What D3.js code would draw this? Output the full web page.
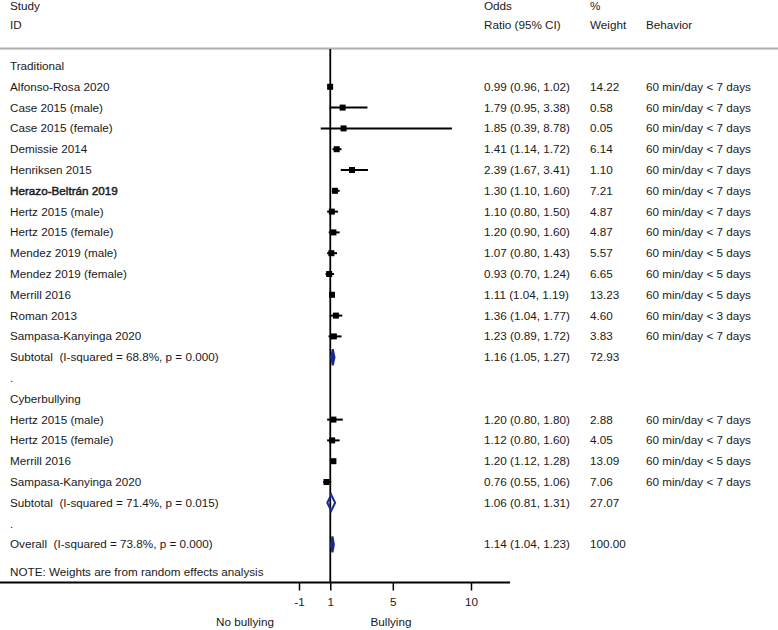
<!DOCTYPE html>
<html>
<head>
<meta charset="utf-8">
<script src="https://cdn.jsdelivr.net/npm/d3@7/dist/d3.min.js"></script>
<style>
  html, body { margin: 0; padding: 0; background: #fff; }
  text { font-family: "Liberation Sans", Arial, Helvetica, sans-serif; font-size: 11.7px; fill: #1a1a1a; white-space: pre; }
</style>
</head>
<body>
<svg id="chart" width="778" height="630"></svg>
<script>
// ---------------- data ----------------
const tradStudies = ["Alfonso-Rosa 2020","Case 2015 (male)","Case 2015 (female)","Demissie 2014","Henriksen 2015","Herazo-Beltrán 2019","Hertz 2015 (male)","Hertz 2015 (female)","Mendez 2019 (male)","Mendez 2019 (female)","Merrill 2016","Roman 2013","Sampasa-Kanyinga 2020"];
const tradOR  = [0.99, 1.79, 1.85, 1.41, 2.39, 1.30, 1.10, 1.20, 1.07, 0.93, 1.11, 1.36, 1.23];
const tradLo  = [0.96, 0.95, 0.39, 1.14, 1.67, 1.10, 0.80, 0.90, 0.80, 0.70, 1.04, 1.04, 0.89];
const tradHi  = [1.02, 3.38, 8.78, 1.72, 3.41, 1.60, 1.50, 1.60, 1.43, 1.24, 1.19, 1.77, 1.72];
const tradW   = ["14.22","0.58","0.05","6.14","1.10","7.21","4.87","4.87","5.57","6.65","13.23","4.60","3.83"];
const tradBeh = ["60 min/day < 7 days","60 min/day < 7 days","60 min/day < 7 days","60 min/day < 7 days","60 min/day < 7 days","60 min/day < 7 days","60 min/day < 7 days","60 min/day < 7 days","60 min/day < 5 days","60 min/day < 5 days","60 min/day < 5 days","60 min/day < 3 days","60 min/day < 7 days"];

const cyberStudies = ["Hertz 2015 (male)","Hertz 2015 (female)","Merrill 2016","Sampasa-Kanyinga 2020"];
const cyberOR  = [1.20, 1.12, 1.20, 0.76];
const cyberLo  = [0.80, 0.80, 1.12, 0.55];
const cyberHi  = [1.80, 1.60, 1.28, 1.06];
const cyberW   = ["2.88","4.05","13.09","7.06"];
const cyberBeh = ["60 min/day < 7 days","60 min/day < 7 days","60 min/day < 5 days","60 min/day < 7 days"];

const pooledLabels = ["Subtotal  (I-squared = 68.8%, p = 0.000)","Subtotal  (I-squared = 71.4%, p = 0.015)","Overall  (I-squared = 73.8%, p = 0.000)"];
const pooledOR = [1.16, 1.06, 1.14];
const pooledLo = [1.05, 0.81, 1.04];
const pooledHi = [1.27, 1.31, 1.23];
const pooledW  = ["72.93","27.07","100.00"];

const xTicks = [-1, 1, 5, 10];
const xTickLabels = ["-1", "1", "5", "10"];
const xLabels = ["No bullying", "Bullying"];

// ---------------- build rows ----------------
const fmt = d3.format(".2f");
const rows = [];
rows.push({type:"head", label:"Traditional"});
tradStudies.forEach((s,i)=>rows.push({type:"study", label:s, or:tradOR[i], lo:tradLo[i], hi:tradHi[i], w:tradW[i], beh:tradBeh[i], bold: s.startsWith("Herazo")}));
rows.push({type:"pool", label:pooledLabels[0], or:pooledOR[0], lo:pooledLo[0], hi:pooledHi[0], w:pooledW[0], fill:true});
rows.push({type:"dot", label:"."});
rows.push({type:"head", label:"Cyberbullying"});
cyberStudies.forEach((s,i)=>rows.push({type:"study", label:s, or:cyberOR[i], lo:cyberLo[i], hi:cyberHi[i], w:cyberW[i], beh:cyberBeh[i]}));
rows.push({type:"pool", label:pooledLabels[1], or:pooledOR[1], lo:pooledLo[1], hi:pooledHi[1], w:pooledW[1], fill:false});
rows.push({type:"dot", label:"."});
rows.push({type:"pool", label:pooledLabels[2], or:pooledOR[2], lo:pooledLo[2], hi:pooledHi[2], w:pooledW[2], fill:true});

// ---------------- scales ----------------
const svg = d3.select("#chart");
const x = d3.scaleLinear().domain([-1, 10]).range([299, 471]);
const y = d3.scaleLinear().domain([0, rows.length - 1]).range([66, 66 + (rows.length - 1) * 20.8]);
const navy = "#1b2a8c";

// header
const hdr = svg.append("g");
hdr.append("text").attr("x", 10).attr("y", 6).attr("dy", "0.35em").text("Study");
hdr.append("text").attr("x", 10).attr("y", 25).attr("dy", "0.35em").text("ID");
hdr.append("text").attr("x", 484).attr("y", 6).attr("dy", "0.35em").text("Odds");
hdr.append("text").attr("x", 484).attr("y", 25).attr("dy", "0.35em").text("Ratio (95% CI)");
hdr.append("text").attr("x", 590).attr("y", 6).attr("dy", "0.35em").text("%");
hdr.append("text").attr("x", 590).attr("y", 25).attr("dy", "0.35em").text("Weight");
hdr.append("text").attr("x", 646).attr("y", 25).attr("dy", "0.35em").text("Behavior");

svg.append("line").attr("x1", 0).attr("x2", 778).attr("y1", 48.5).attr("y2", 48.5)
  .attr("stroke", "#b0b0b0").attr("stroke-width", 2);

// null line
const axisY = 582.5;
svg.append("line").attr("x1", x(1)).attr("x2", x(1)).attr("y1", 49).attr("y2", axisY)
  .attr("stroke", "#000").attr("stroke-width", 1.8);

// rows
const g = svg.append("g");
rows.forEach((r, i) => {
  const yy = y(i);
  const t = g.append("text").attr("x", 10).attr("y", yy).attr("dy", "0.35em")
    .attr("xml:space", "preserve").text(r.label);
  if (r.bold) t.attr("stroke", "#1a1a1a").attr("stroke-width", 0.45);
  if (r.type === "study") {
    g.append("line").attr("x1", x(r.lo)).attr("x2", x(r.hi)).attr("y1", yy).attr("y2", yy)
      .attr("stroke", "#000").attr("stroke-width", 2);
    g.append("rect").attr("x", x(r.or) - 3).attr("y", yy - 3).attr("width", 6).attr("height", 6).attr("fill", "#000");
  }
  if (r.type === "pool") {
    const pts = [[x(r.lo), yy], [x(r.or), yy - 8], [x(r.hi), yy], [x(r.or), yy + 8]];
    g.append("path").attr("d", d3.line()(pts) + "Z")
      .attr("fill", r.fill ? navy : "none").attr("stroke", navy).attr("stroke-width", 2);
  }
  if (r.type === "study" || r.type === "pool") {
    g.append("text").attr("x", 484).attr("y", yy).attr("dy", "0.35em")
      .text(`${fmt(r.or)} (${fmt(r.lo)}, ${fmt(r.hi)})`);
    g.append("text").attr("x", 590).attr("y", yy).attr("dy", "0.35em").text(r.w);
    if (r.beh) g.append("text").attr("x", 646).attr("y", yy).attr("dy", "0.35em").text(r.beh);
  }
});

// note
svg.append("text").attr("x", 10).attr("y", 572).attr("dy", "0.35em").text("NOTE: Weights are from random effects analysis");

// axis
svg.append("line").attr("x1", 0).attr("x2", 510).attr("y1", axisY).attr("y2", axisY)
  .attr("stroke", "#000").attr("stroke-width", 1.8);
const axis = d3.axisBottom(x).tickValues(xTicks).tickSize(8).tickPadding(7)
  .tickFormat((d, i) => xTickLabels[i]);
const ag = svg.append("g").attr("transform", `translate(0,${axisY})`).call(axis);
ag.select(".domain").remove();
ag.selectAll(".tick line").attr("stroke", "#000").attr("stroke-width", 1.5);
ag.selectAll(".tick text").attr("fill", "#1a1a1a").style("font-size", "11.7px")
  .style("font-family", "'Liberation Sans', Arial, sans-serif");

svg.append("text").attr("x", 245).attr("y", 622).attr("dy", "0.35em").attr("text-anchor", "middle").text(xLabels[0]);
svg.append("text").attr("x", 391).attr("y", 622).attr("dy", "0.35em").attr("text-anchor", "middle").text(xLabels[1]);
</script>
</body>
</html>
